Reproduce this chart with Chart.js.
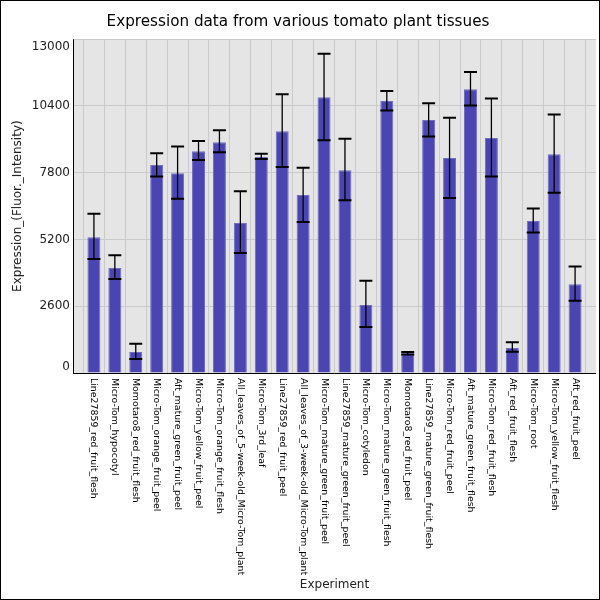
<!DOCTYPE html>
<html>
<head>
<meta charset="utf-8">
<script src="https://cdn.jsdelivr.net/npm/chart.js@4.4.1/dist/chart.umd.min.js"></script>
<style>
html,body{margin:0;padding:0;background:#fff;}
#wrap{width:600px;height:600px;}
</style>
</head>
<body>
<div id="wrap"><canvas id="c" width="600" height="600"></canvas></div>
<script>
const categories = [
  "Line27859_red_fruit_flesh",
  "Micro-Tom_hypocotyl",
  "Momotaro8_red_fruit_flesh",
  "Micro-Tom_orange_fruit_peel",
  "Aft_mature_green_fruit_peel",
  "Micro-Tom_yellow_fruit_peel",
  "Micro-Tom_orange_fruit_flesh",
  "All_leaves_of_5-week-old_Micro-Tom_plant",
  "Micro-Tom_3rd_leaf",
  "Line27859_red_fruit_peel",
  "All_leaves_of_3-week-old_Micro-Tom_plant",
  "Micro-Tom_mature_green_fruit_peel",
  "Line27859_mature_green_fruit_peel",
  "Micro-Tom_cotyledon",
  "Micro-Tom_mature_green_fruit_flesh",
  "Momotaro8_red_fruit_peel",
  "Line27859_mature_green_fruit_flesh",
  "Micro-Tom_red_fruit_peel",
  "Aft_mature_green_fruit_flesh",
  "Micro-Tom_red_fruit_flesh",
  "Aft_red_fruit_flesh",
  "Micro-Tom_root",
  "Micro-Tom_yellow_fruit_flesh",
  "Aft_red_fruit_peel"
];
const meanValues = [5290, 4090, 820, 8100, 7780, 8640, 8990, 5840, 8410, 9420, 6930, 10740, 7900, 2650, 10590, 765, 9850, 8370, 11050, 9150, 975, 5920, 8520, 3460];
const errorHigh  = [6200, 4590, 1140, 8560, 8820, 9040, 9460, 7080, 8540, 10860, 7990, 12430, 9120, 3590, 10980, 820, 10510, 9940, 11720, 10690, 1200, 6410, 10070, 4150];
const errorLow   = [4440, 3660, 545, 7655, 6785, 8300, 8600, 4670, 8340, 8020, 5880, 9070, 6730, 1790, 10220, 725, 9210, 6820, 10420, 7655, 830, 5475, 7020, 2810];
const yTicks = [0, 2600, 5200, 7800, 10400, 13000];

const titleText = "Expression data from various tomato plant tissues";
const xTitle = "Experiment";
const yTitle = "Expression_(Fluor._Intensity)";

// padded category list so bar centres sit at k * width/25
const labels = [""].concat(categories, [""]);
const barData = [null].concat(meanValues, [null]);

const FONT = "'DejaVu Sans', sans-serif";

const decor = {
  id: 'decor',
  beforeDraw(chart) {
    const {ctx, chartArea: a} = chart;
    ctx.save();
    ctx.fillStyle = '#fff';
    ctx.fillRect(0, 0, chart.width, chart.height);
    ctx.fillStyle = '#e5e5e5';
    ctx.fillRect(a.left, a.top, a.right - a.left, a.bottom - a.top);
    ctx.restore();
  },
  afterDatasetsDraw(chart) {
    const {ctx} = chart;
    const ys = chart.scales.y;
    const meta = chart.getDatasetMeta(0);
    ctx.save();
    ctx.strokeStyle = '#000';
    for (let i = 0; i < categories.length; i++) {
      const bar = meta.data[i + 1];
      if (!bar) continue;
      const x = bar.x;
      const hw = bar.width / 2;
      const yh = ys.getPixelForValue(errorHigh[i]);
      const yl = ys.getPixelForValue(errorLow[i]);
      ctx.lineWidth = 1.3;
      ctx.beginPath();
      ctx.moveTo(x, yh); ctx.lineTo(x, yl);
      ctx.stroke();
      ctx.lineWidth = 2;
      ctx.beginPath();
      ctx.moveTo(x - hw, yh); ctx.lineTo(x + hw, yh);
      ctx.moveTo(x - hw, yl); ctx.lineTo(x + hw, yl);
      ctx.stroke();
    }
    ctx.restore();
  },
  afterDraw(chart) {
    const {ctx, chartArea: a} = chart;
    const xs = chart.scales.x, ys = chart.scales.y;
    ctx.save();
    // axis lines
    ctx.strokeStyle = '#000';
    ctx.lineWidth = 1;
    ctx.beginPath();
    ctx.moveTo(a.left + 0.5, a.top); ctx.lineTo(a.left + 0.5, a.bottom);
    ctx.moveTo(a.left, a.bottom + 0.5); ctx.lineTo(a.right, a.bottom + 0.5);
    ctx.stroke();
    // y tick labels
    ctx.fillStyle = '#222';
    ctx.font = "12px " + FONT;
    ctx.textAlign = 'right';
    ctx.textBaseline = 'middle';
    yTicks.forEach(v => {
      let y = ys.getPixelForValue(v);
      y = Math.min(Math.max(y, a.top + 8), a.bottom - 6);
      ctx.fillText(String(v), a.left - 3, y);
    });
    // x tick labels rotated clockwise
    ctx.font = "9.4px " + FONT;
    ctx.fillStyle = '#000';
    ctx.textAlign = 'left';
    ctx.textBaseline = 'middle';
    categories.forEach((c, i) => {
      const x = xs.getPixelForTick(i + 1);
      ctx.save();
      ctx.translate(x, a.bottom + 5);
      ctx.rotate(Math.PI / 2);
      ctx.fillText(c, 0, 0);
      ctx.restore();
    });
    // axis titles
    ctx.fillStyle = '#222';
    ctx.font = "12px " + FONT;
    ctx.textAlign = 'center';
    ctx.textBaseline = 'middle';
    ctx.fillText(xTitle, (a.left + a.right) / 2, 585);
    ctx.save();
    ctx.translate(18, (a.top + a.bottom) / 2);
    ctx.rotate(-Math.PI / 2);
    ctx.fillText(yTitle, 0, 0);
    ctx.restore();
    // outer frame
    ctx.strokeStyle = '#000';
    ctx.lineWidth = 1;
    ctx.strokeRect(0.5, 0.5, chart.width - 1, chart.height - 1);
    ctx.restore();
  }
};

new Chart(document.getElementById('c'), {
  type: 'bar',
  data: {
    labels: labels,
    datasets: [{
      data: barData,
      backgroundColor: '#4a45b1',
      borderColor: '#706bc3',
      borderWidth: 1,
      barPercentage: 0.62,
      categoryPercentage: 1.0
    }]
  },
  options: {
    responsive: false,
    animation: false,
    devicePixelRatio: 1,
    layout: {padding: {top: 0, left: 0, right: 4, bottom: 0}},
    plugins: {
      legend: {display: false},
      tooltip: {enabled: false},
      title: {
        display: true,
        text: titleText,
        color: '#000',
        font: {family: FONT, size: 15.2, weight: 'normal', lineHeight: 1.2},
        padding: {top: 13, bottom: 8}
      }
    },
    scales: {
      x: {
        type: 'category',
        offset: false,
        grid: {color: '#cacaca', lineWidth: 1, drawTicks: false},
        border: {display: false},
        ticks: {display: false},
        afterFit(s) { s.height = 227; }
      },
      y: {
        min: 0,
        max: 13000,
        afterBuildTicks(s) { s.ticks = yTicks.map(v => ({value: v})); },
        grid: {color: '#cacaca', lineWidth: 1, drawTicks: false},
        border: {display: false},
        ticks: {display: false},
        afterFit(s) { s.width = 73; }
      }
    }
  },
  plugins: [decor]
});
</script>
</body>
</html>
